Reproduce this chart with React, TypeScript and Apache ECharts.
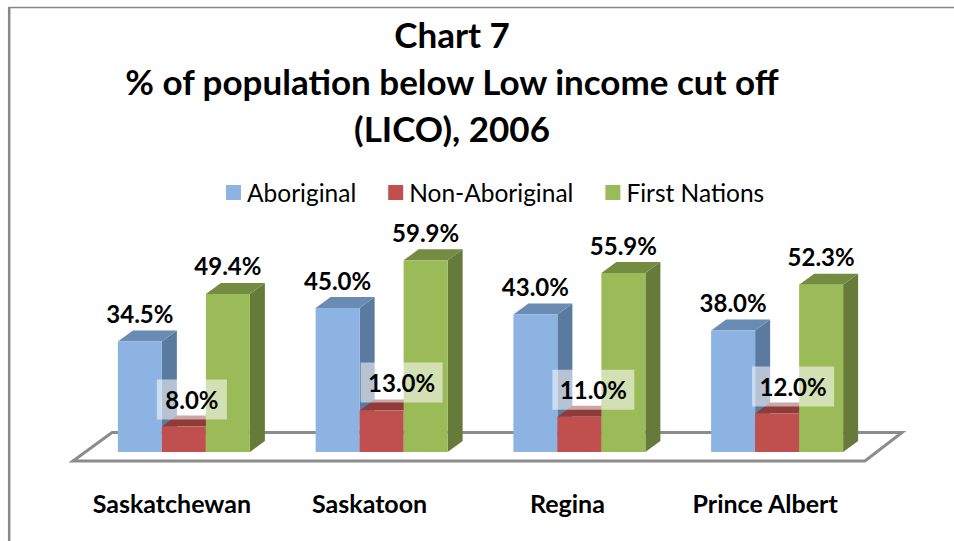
import React, { useEffect, useRef } from "react";
import * as echarts from "echarts";

const titleLines = ["Chart 7", "% of population below Low income cut off", "(LICO), 2006"];
const categories = ["Saskatchewan", "Saskatoon", "Regina", "Prince Albert"];
const aboriginal = [34.5, 45.0, 43.0, 38.0];
const nonAboriginal = [8.0, 13.0, 11.0, 12.0];
const firstNations = [49.4, 59.9, 55.9, 52.3];

// layout of the hand-placed label boxes on the middle bars
const boxShiftX = [8, 20, 14, 16];
const boxShiftY = [-13, -14, -13, -13];

const FONT = "Lato, Carlito, sans-serif";
const DX = 15;
const DY = -11;
const BAR_W = 44;

const palette = [
  { front: "#8DB3E2", side: "#5B7A9F", top: "#6A8CB4" },
  { front: "#C0504D", side: "#8E3B39", top: "#8E3B39" },
  { front: "#9BBB59", side: "#667A3A", top: "#748C42" },
];

function makeSeries(name: string, values: number[], idx: number) {
  const c = palette[idx];
  return {
    type: "custom",
    name,
    itemStyle: { color: c.front },
    data: values.map((v, i) => [i, v]),
    renderItem(_p: any, api: any) {
      const i = api.value(0);
      const v = api.value(1);
      const [cx, y1] = api.coord([i, v]);
      const [, y0] = api.coord([i, 0]);
      const x0 = cx + (idx - 1.5) * BAR_W;
      const x1 = x0 + BAR_W;
      const children: any[] = [
        {
          type: "polygon",
          shape: { points: [[x1, y1], [x1 + DX, y1 + DY], [x1 + DX, y0 + DY], [x1, y0]] },
          style: { fill: c.side },
        },
        {
          type: "polygon",
          shape: { points: [[x0, y1], [x0 + DX, y1 + DY], [x1 + DX, y1 + DY], [x1, y1]] },
          style: { fill: c.top },
        },
        { type: "rect", shape: { x: x0, y: y1, width: BAR_W, height: y0 - y1 }, style: { fill: c.front } },
      ];
      const text = v.toFixed(1) + "%";
      if (idx === 1) {
        const bx = x0 + BAR_W / 2 + boxShiftX[i];
        const by = y1 + boxShiftY[i] - 14;
        children.push({
          type: "rect",
          z2: 50,
          shape: { x: bx - 35 - (text.length > 4 ? 6 : 0), y: by - 20, width: 70 + (text.length > 4 ? 12 : 0), height: 40 },
          style: { fill: "rgba(255,255,255,0.55)" },
        });
        children.push({
          type: "text",
          z2: 60,
          x: bx,
          y: by,
          style: { text, fill: "#000", font: `bold 24px ${FONT}`, align: "center", verticalAlign: "middle" },
        });
      } else {
        children.push({
          type: "text",
          z2: 60,
          x: x0 + BAR_W / 2,
          y: y1 - 28,
          style: { text, fill: "#000", font: `bold 24px ${FONT}`, align: "center", verticalAlign: "middle" },
        });
      }
      return { type: "group", children };
    },
  };
}

export default function App() {
  const ref = useRef<HTMLDivElement>(null);
  useEffect(() => {
    const chart = echarts.init(ref.current!, undefined, { renderer: "svg" });
    chart.setOption({
      animation: false,
      backgroundColor: "#fff",
      title: {
        text: titleLines.join("\n"),
        left: 447,
        top: 5,
        textAlign: "center",
        textStyle: { fontFamily: FONT, fontWeight: "bold", fontSize: 35, lineHeight: 47, color: "#000" },
      },
      legend: {
        left: 221,
        top: 175,
        itemWidth: 15,
        itemHeight: 15,
        itemGap: 32,
        icon: "rect",
        textStyle: { fontFamily: FONT, fontSize: 24.5, color: "#000", padding: [0, 0, 0, 1] },
        data: ["Aboriginal", "Non-Aboriginal", "First Nations"],
      },
      grid: { left: 85, right: 78, top: 132, bottom: 89 },
      xAxis: {
        type: "category",
        data: categories,
        axisLine: { show: false },
        axisTick: { show: false },
        axisLabel: {
          interval: 0,
          hideOverlap: false,
          margin: 38,
          fontFamily: FONT,
          fontWeight: "bold",
          fontSize: 25,
          color: "#000",
          padding: [0, 24, 0, 0],
        },
      },
      yAxis: { type: "value", min: 0, max: 100, show: false, splitLine: { show: false } },
      graphic: [
        {
          type: "polygon",
          z: -1,
          silent: true,
          shape: { points: [[73, 461], [112, 432.5], [902, 432.5], [865, 461]] },
          style: { fill: "#fff", stroke: "#8C8C8C", lineWidth: 3 },
        },
        { type: "line", silent: true, shape: { x1: 9, y1: 7.5, x2: 954, y2: 7.5 }, style: { stroke: "#888", lineWidth: 1.5 } },
        { type: "line", silent: true, shape: { x1: 9.2, y1: 7, x2: 9.2, y2: 541 }, style: { stroke: "#888", lineWidth: 2.5 } },
      ],
      series: [
        makeSeries("Aboriginal", aboriginal, 0),
        makeSeries("Non-Aboriginal", nonAboriginal, 1),
        makeSeries("First Nations", firstNations, 2),
      ],
    });
    return () => chart.dispose();
  }, []);
  return <div ref={ref} style={{ position: "fixed", left: 0, top: 0, width: 954, height: 541 }} />;
}
